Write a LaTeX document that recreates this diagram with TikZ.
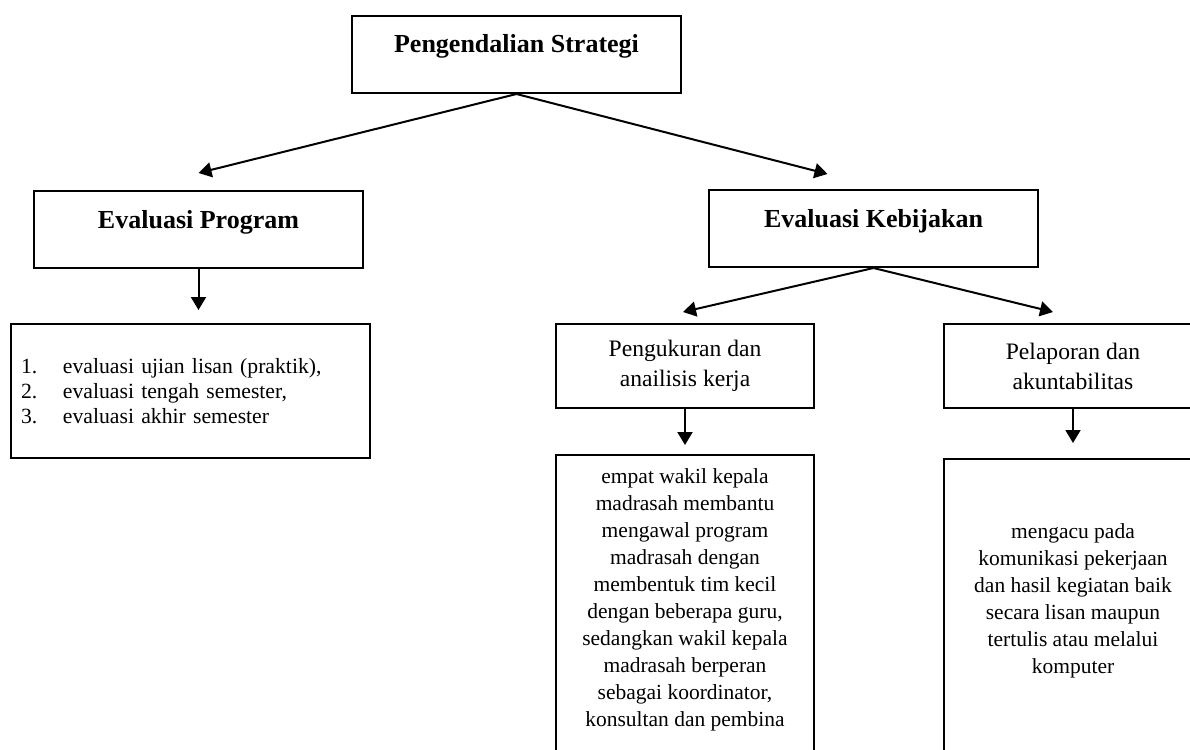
\documentclass[tikz,border=0pt]{standalone}
\usepackage{fontspec}
\setmainfont{Liberation Serif}
\usetikzlibrary{arrows.meta, positioning}

\begin{document}
\begin{tikzpicture}[
    x=1pt, y=-1pt,
    every node/.style={inner sep=0pt, line width=2pt},
    head/.style={draw, font=\fontsize{26}{31}\selectfont\bfseries, minimum width=329pt, text height=37pt, text depth=40pt},
    sub/.style={draw, font=\fontsize{23.6}{30}\selectfont, minimum width=258pt, minimum height=84pt, align=center},
    list/.style={draw, font=\fontsize{21.7}{25}\selectfont, minimum width=359pt, minimum height=134pt, text width=339pt, align=left},
    detail/.style={draw, minimum width=258pt, minimum height=330pt},
    body/.style={font=\fontsize{21.5}{26.9}\selectfont, align=center},
    arr/.style={-{Triangle[length=13pt, width=15pt]}, line width=2pt},
]
\useasboundingbox (0,0) rectangle (1190,749);
\clip (0,0) rectangle (1190,749);

\node[head, anchor=north west] (root) at (351,15) {Pengendalian Strategi};
\node[head, anchor=north west] (prog) at (33,190) {Evaluasi Program};
\node[head, anchor=north west] (kebij) at (708,189) {Evaluasi Kebijakan};

\node[list, anchor=north west] (items) at (10,323)
    {\makebox[42pt][l]{1.}evaluasi ujian lisan (praktik),\\
     \makebox[42pt][l]{2.}evaluasi tengah semester,\\
     \makebox[42pt][l]{3.}evaluasi akhir semester};

\node[sub, anchor=north west] (ukur) at (555,323) {Pengukuran dan\\anailisis kerja};
\node[sub, anchor=north west] (lapor) at (943,323) {Pelaporan dan\\akuntabilitas};

\node[detail, anchor=north west] (ukurbox) at (555,454) {};
\node[detail, anchor=north west] (laporbox) at (943,458) {};
\node[body, below=14pt of ukurbox.north] (ukurtext)
    {empat wakil kepala\\madrasah membantu\\mengawal program\\madrasah dengan\\membentuk tim kecil\\dengan beberapa guru,\\sedangkan wakil kepala\\madrasah berperan\\sebagai koordinator,\\konsultan dan pembina};
\node[body, below=65pt of laporbox.north] (laportext)
    {mengacu pada\\komunikasi pekerjaan\\dan hasil kegiatan baik\\secara lisan maupun\\tertulis atau melalui\\komputer};

\draw[arr] (root.south) -- ([yshift=17pt]prog.north);
\draw[arr] (root.south) -- ([xshift=-46pt, yshift=15pt]kebij.north);
\draw[arr, shorten >=13pt] (prog.south) -- (prog.south |- items.north);
\draw[arr] (kebij.south) -- ([xshift=-2pt, yshift=11pt]ukur.north);
\draw[arr] (kebij.south) -- ([xshift=-20pt, yshift=11pt]lapor.north);
\draw[arr, shorten >=9pt] (ukur.south) -- (ukurbox.north);
\draw[arr, shorten >=15pt] (lapor.south) -- (laporbox.north);

\end{tikzpicture}
\end{document}
